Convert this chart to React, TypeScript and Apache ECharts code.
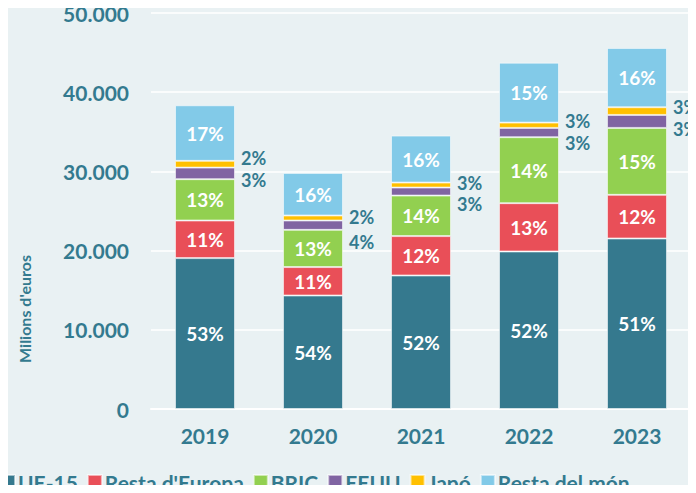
import React, { useEffect, useRef } from "react";
import * as echarts from "echarts";

const years = ["2019", "2020", "2021", "2022", "2023"];
const ue15 = [19050, 14330, 16860, 19890, 21530];
const restaEuropa = [4750, 3590, 4970, 6100, 5510];
const bric = [5220, 4700, 5120, 8330, 8450];
const eeuu = [1460, 1180, 1010, 1170, 1640];
const japo = [850, 630, 630, 670, 970];
const restaMon = [7020, 5380, 5930, 7570, 7490];

const ue15Pct = ["53%", "54%", "52%", "52%", "51%"];
const restaEuropaPct = ["11%", "11%", "12%", "13%", "12%"];
const bricPct = ["13%", "13%", "14%", "14%", "15%"];
const eeuuPct = ["3%", "4%", "3%", "3%", "3%"];
const japoPct = ["2%", "2%", "3%", "3%", "3%"];
const restaMonPct = ["17%", "16%", "16%", "15%", "16%"];

const yTicks = [0, 10000, 20000, 30000, 40000, 50000];

const TEAL = "#337a8f";
const FONT = "Lato, 'Open Sans', sans-serif";

const japoOffsetY = [-6, -1, -2, -4, -4];
const eeuuOffsetY = [7, 17, 12, 10, 8];

export default function App() {
  const ref = useRef<HTMLDivElement>(null);
  useEffect(() => {
    if (!ref.current) return;
    const chart = echarts.init(ref.current, undefined, { renderer: "svg" });

    const insideLabel = (pcts: string[]) => ({
      show: true,
      position: "inside",
      color: "#ffffff",
      fontFamily: FONT,
      fontWeight: "bold",
      fontSize: 19,
      formatter: (p: any) => pcts[p.dataIndex],
    });

    const sideData = (vals: number[], pcts: string[], offs: number[]) =>
      vals.map((v, i) => ({
        value: v,
        label: {
          show: true,
          position: "right",
          distance: 6,
          offset: [0, offs[i]],
          color: TEAL,
          fontFamily: FONT,
          fontWeight: "bold",
          fontSize: 18,
          lineHeight: 18,
          formatter: pcts[i],
        },
      }));

    const itemStyle = (color: string) => ({
      color,
      borderColor: "rgba(255,255,255,0.55)",
      borderWidth: 1,
    });

    const base = {
      type: "bar",
      stack: "total",
      barWidth: 60,
    };

    chart.setOption({
      animation: false,
      backgroundColor: "#e9f1f3",
      textStyle: { fontFamily: FONT },
      grid: { left: 151, right: 5, top: 13, bottom: 84, containLabel: false },
      legend: {
        left: 0,
        top: 470,
        itemWidth: 14,
        itemHeight: 14,
        itemGap: 9,
        icon: "rect",
        padding: 0,
        textStyle: {
          color: TEAL,
          fontFamily: FONT,
          fontWeight: "bold",
          fontSize: 21,
          lineHeight: 24,
          padding: [0, 0, 0, -2],
        },
        data: ["UE-15", "Resta d'Europa", "BRIC", "EEUU", "Japó", "Resta del món"],
      },
      xAxis: {
        type: "category",
        data: years,
        axisLine: { show: true, lineStyle: { color: "#ffffff", width: 2 } },
        axisTick: { show: false },
        axisLabel: {
          color: TEAL,
          fontFamily: FONT,
          fontWeight: "bold",
          fontSize: 21,
          margin: 16,
        },
      },
      yAxis: {
        type: "value",
        min: yTicks[0],
        max: yTicks[yTicks.length - 1],
        interval: 10000,
        axisLine: { show: false },
        axisTick: { show: false },
        splitLine: { lineStyle: { color: "#ffffff", width: 1.5 } },
        axisLabel: {
          color: TEAL,
          fontFamily: FONT,
          fontWeight: "bold",
          fontSize: 21,
          margin: 22,
          formatter: (v: number) =>
            v === 0 ? "0" : v.toLocaleString("de-DE").replace(/,/g, "."),
        },
      },
      graphic: [
        {
          type: "text",
          x: 24,
          y: 309,
          rotation: Math.PI / 2,
          style: {
            text: "Milions d'euros",
            fill: TEAL,
            font: `bold 16px ${FONT}`,
            textAlign: "center",
            textVerticalAlign: "middle",
          },
        },
      ],
      series: [
        { ...base, name: "UE-15", data: ue15, itemStyle: itemStyle("#35798e"), label: insideLabel(ue15Pct) },
        { ...base, name: "Resta d'Europa", data: restaEuropa, itemStyle: itemStyle("#e94f58"), label: insideLabel(restaEuropaPct) },
        { ...base, name: "BRIC", data: bric, itemStyle: itemStyle("#92d050"), label: insideLabel(bricPct) },
        { ...base, name: "EEUU", data: sideData(eeuu, eeuuPct, eeuuOffsetY), itemStyle: itemStyle("#8064a2") },
        { ...base, name: "Japó", data: sideData(japo, japoPct, japoOffsetY), itemStyle: itemStyle("#ffc000") },
        { ...base, name: "Resta del món", data: restaMon, itemStyle: itemStyle("#82cae8"), label: insideLabel(restaMonPct) },
      ],
    });
    return () => chart.dispose();
  }, []);
  return <div ref={ref} style={{ width: 696, height: 493, margin: -8 }} />;
}
